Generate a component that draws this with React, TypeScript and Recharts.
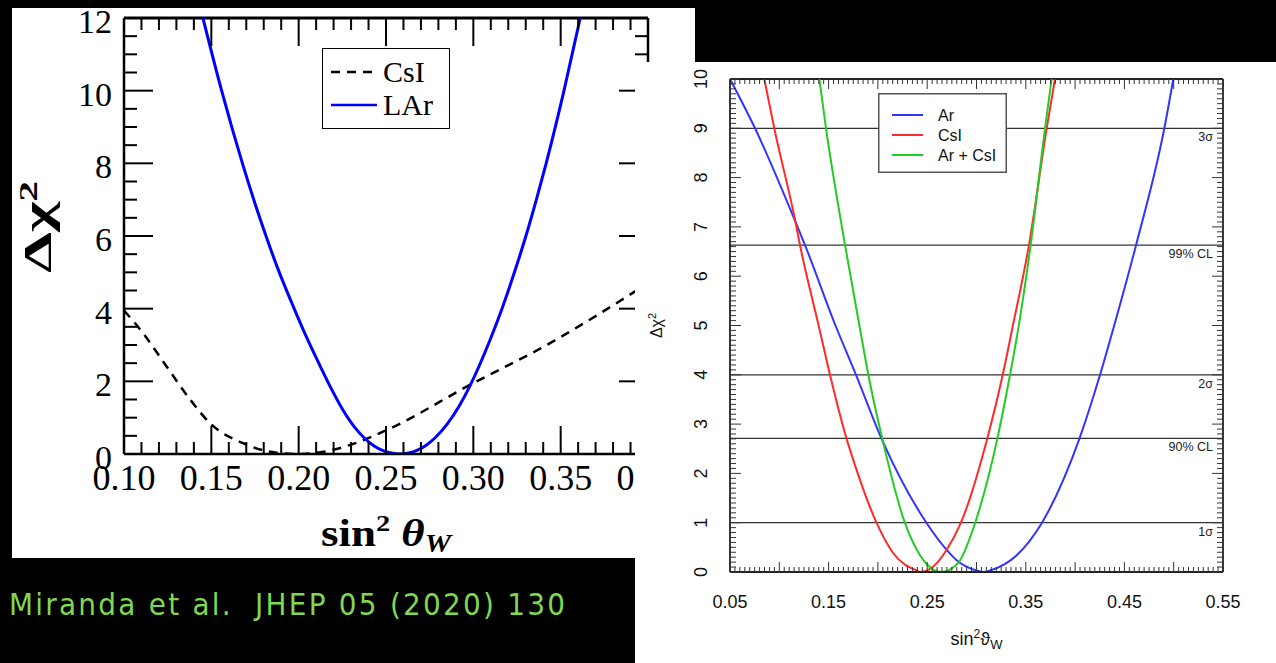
import React from 'react';
import { LineChart, Line, XAxis, YAxis, ReferenceLine, Legend } from 'recharts';

type Pt = [number, number];

// ---------- Left panel: Δχ² versus sin²θW, CsI and LAr ----------
const csiCurve: Pt[] = [
  [0.1, 3.95], [0.111, 3.32], [0.1245, 2.4], [0.138, 1.49], [0.1494, 0.84],
  [0.1685, 0.29], [0.1837, 0.06], [0.199, 0.0], [0.2143, 0.06], [0.2295, 0.25],
  [0.2505, 0.66], [0.298, 1.9], [0.342, 3.0], [0.4, 4.7],
];
const larCurve: Pt[] = [
  [0.1452, 12], [0.1559, 10], [0.1678, 8], [0.1743, 7], [0.1813, 6], [0.1884, 5.06],
  [0.1955, 4.22], [0.2027, 3.41], [0.21, 2.65], [0.218, 1.86], [0.225, 1.24], [0.232, 0.74],
  [0.238, 0.42], [0.243, 0.23], [0.248, 0.1], [0.253, 0.025], [0.258, 0],
  [0.263, 0.026], [0.268, 0.106], [0.273, 0.243], [0.278, 0.44], [0.285, 0.82],
  [0.292, 1.33], [0.298, 1.87], [0.3095, 3.13], [0.3164, 4.0], [0.324, 5.07],
  [0.3301, 6], [0.3361, 7], [0.3417, 8], [0.3519, 10], [0.3612, 12],
];
const leftXLabels = [0.1, 0.15, 0.2, 0.25, 0.3, 0.35, 0.4];
const leftYLabels = [0, 2, 4, 6, 8, 10, 12];
const leftSeries = [
  { name: 'CsI', color: '#000000', dash: '9 7' },
  { name: 'LAr', color: '#0000ff', dash: '' },
];

// ---------- Right panel: Ar, CsI and combined fit ----------
const arCurve: Pt[] = [
  [0.05, 10], [0.0754, 9], [0.1142, 7.21], [0.1261, 6.63], [0.157, 5.0], [0.1778, 4.0],
  [0.2038, 2.7], [0.2495, 0.99], [0.2698, 0.45], [0.2799, 0.24], [0.3002, 0.03], [0.3075, 0],
  [0.3137, 0.03], [0.3408, 0.34], [0.3661, 0.99], [0.4043, 2.7], [0.4253, 4.0],
  [0.4388, 4.94], [0.4618, 6.63], [0.4905, 9], [0.4996, 10],
];
const csiFitCurve: Pt[] = [
  [0.0848, 10], [0.0949, 9], [0.116, 7.14], [0.121, 6.63], [0.1406, 4.94], [0.1514, 4.0],
  [0.1683, 2.7], [0.1751, 2.27], [0.1988, 0.99], [0.2156, 0.38], [0.2393, 0.03], [0.2435, 0],
  [0.2562, 0.11], [0.2698, 0.45], [0.284, 0.99], [0.3108, 2.7], [0.3266, 4.0],
  [0.3363, 4.94], [0.3532, 6.63], [0.3712, 9], [0.3796, 10],
];
const comboCurve: Pt[] = [
  [0.1406, 10], [0.1474, 9], [0.1667, 6.63], [0.1818, 4.94], [0.1903, 4.0], [0.2045, 2.7],
  [0.2275, 0.99], [0.2427, 0.34], [0.2562, 0.05], [0.2647, 0], [0.273, 0.05],
  [0.2833, 0.24], [0.2985, 0.99], [0.3211, 2.7], [0.334, 4.0], [0.3424, 4.94],
  [0.3549, 6.63], [0.3695, 9], [0.3762, 10],
];
const rightXLabels = [0.05, 0.15, 0.25, 0.35, 0.45, 0.55];
const rightYLabels = [0, 1, 2, 3, 4, 5, 6, 7, 8, 9, 10];
const levelValues = [9, 6.63, 4, 2.71, 1];
const levelNames = ['3σ', '99% CL', '2σ', '90% CL', '1σ'];
const rightSeries = [
  { name: 'Ar', color: '#3434ff' },
  { name: 'CsI', color: '#ff2a2a' },
  { name: 'Ar + CsI', color: '#22cc22' },
];

const citation = 'Miranda et al.  JHEP 05 (2020) 130';

// ---------- helpers ----------
const toRows = (pts: Pt[]) => pts.map(([x, y]) => ({ x, y }));
const steps = (from: number, to: number, step: number) => {
  const out: number[] = [];
  const n = Math.round((to - from) / step);
  for (let i = 0; i <= n; i++) out.push(+(from + i * step).toFixed(4));
  return out;
};
const near = (a: number, b: number) => Math.abs(a - b) < 1e-6;
const hasValue = (list: number[], v: number) => list.some((u) => near(u, v));
const isMultiple = (v: number, step: number) => Math.abs(v / step - Math.round(v / step)) < 1e-6;

const SERIF = '"Liberation Serif", "Times New Roman", serif';
const SANS = '"Liberation Sans", Arial, Helvetica, sans-serif';

// ---------- left layout ----------
const L_W = 683;
const L_H = 550;
const L_MARGIN = { top: 10, right: 47, bottom: 0, left: 0 };
const L_YW = 112;
const L_XH = 104;
const L_PLOT_W = L_W - L_MARGIN.right - L_YW;
const L_PLOT_H = L_H - L_MARGIN.top - L_XH;

// ---------- right layout ----------
const R_W = 641;
const R_H = 601;
const R_MARGIN = { top: 17, right: 53, bottom: 0, left: 0 };
const R_YW = 95;
const R_XH = 91;
const R_PLOT_W = R_W - R_MARGIN.right - R_YW;
const R_PLOT_H = R_H - R_MARGIN.top - R_XH;

function LeftXTick(props: any) {
  const { x, y, payload } = props;
  const v: number = payload.value;
  const major = hasValue(leftXLabels, v);
  const len = major ? 28 : 12;
  const top = y - L_PLOT_H;
  return (
    <g>
      <line x1={x} y1={y} x2={x} y2={y - len} stroke="#000" strokeWidth={2} />
      <line x1={x} y1={top} x2={x} y2={top + len} stroke="#000" strokeWidth={2} />
      {major ? (
        <text x={x} y={y + 36} textAnchor="middle" fontFamily={SERIF} fontSize={36} fill="#000">
          {v.toFixed(2)}
        </text>
      ) : null}
    </g>
  );
}

function LeftYTick(props: any) {
  const { x, y, payload } = props;
  const v: number = payload.value;
  const major = hasValue(leftYLabels, v);
  const len = major ? 29 : 13;
  const right = x + L_PLOT_W;
  return (
    <g>
      <line x1={x} y1={y} x2={x + len} y2={y} stroke="#000" strokeWidth={2} />
      <line x1={right} y1={y} x2={right - len} y2={y} stroke="#000" strokeWidth={2} />
      {major ? (
        <text x={x - 12} y={y + 15} textAnchor="end" fontFamily={SERIF} fontSize={34} fill="#000">
          {String(v)}
        </text>
      ) : null}
    </g>
  );
}

function RightXTick(props: any) {
  const { x, y, payload } = props;
  const v: number = payload.value;
  const major = isMultiple(v, 0.05);
  const len = major ? 10 : 5;
  const top = y - R_PLOT_H;
  return (
    <g>
      <line x1={x} y1={y} x2={x} y2={y - len} stroke="#333" strokeWidth={1} />
      <line x1={x} y1={top} x2={x} y2={top + len} stroke="#333" strokeWidth={1} />
      {hasValue(rightXLabels, v) ? (
        <text x={x} y={y + 36} textAnchor="middle" fontFamily={SANS} fontSize={18} fill="#111">
          {v.toFixed(2)}
        </text>
      ) : null}
    </g>
  );
}

function RightYTick(props: any) {
  const { x, y, payload } = props;
  const v: number = payload.value;
  const major = isMultiple(v, 1);
  const len = major ? 11 : 6;
  const right = x + R_PLOT_W;
  const cx = x - 29;
  return (
    <g>
      <line x1={x} y1={y} x2={x + len} y2={y} stroke="#333" strokeWidth={1} />
      <line x1={right} y1={y} x2={right - len} y2={y} stroke="#333" strokeWidth={1} />
      {major && hasValue(rightYLabels, v) ? (
        <text
          x={cx}
          y={y}
          dy="0.36em"
          transform={`rotate(-90 ${cx} ${y})`}
          textAnchor="middle"
          fontFamily={SANS}
          fontSize={18}
          fill="#111"
        >
          {String(v)}
        </text>
      ) : null}
    </g>
  );
}

function LeftXLabel(props: any) {
  const vb = props.viewBox;
  const cx = vb.x + vb.width / 2;
  return (
    <text
      x={cx}
      y={vb.y + 92}
      textAnchor="middle"
      fontFamily={SERIF}
      fontSize={38}
      fontWeight="bold"
      fill="#000"
      textLength={130}
      lengthAdjust="spacingAndGlyphs"
    >
      sin
      <tspan dy={-15} fontSize={24}>2</tspan>
      <tspan dy={15} fontStyle="italic"> θ</tspan>
      <tspan dy={6} fontSize={25} fontStyle="italic">W</tspan>
    </text>
  );
}

function LeftYLabel(props: any) {
  const vb = props.viewBox;
  const cx = vb.x + 39;
  const cy = vb.y + vb.height / 2 - 9;
  return (
    <text
      x={cx}
      y={cy}
      transform={`rotate(-90 ${cx} ${cy})`}
      textAnchor="middle"
      fontFamily={SERIF}
      fontSize={41}
      fontWeight="bold"
      fill="#000"
      textLength={92}
      lengthAdjust="spacingAndGlyphs"
    >
      Δχ
      <tspan dy={-14} fontSize={26}>2</tspan>
    </text>
  );
}

function RightXLabel(props: any) {
  const vb = props.viewBox;
  const cx = vb.x + vb.width / 2;
  return (
    <text x={cx} y={vb.y + 73} textAnchor="middle" fontFamily={SANS} fontSize={18} fill="#111">
      sin
      <tspan dy={-7} fontSize={12}>2</tspan>
      <tspan dy={7}>ϑ</tspan>
      <tspan dy={4} fontSize={13}>W</tspan>
    </text>
  );
}

function RightYLabel(props: any) {
  const vb = props.viewBox;
  const cx = vb.x + vb.width - 74;
  const cy = vb.y + vb.height / 2;
  return (
    <text
      x={cx}
      y={cy}
      dy="0.36em"
      transform={`rotate(-90 ${cx} ${cy})`}
      textAnchor="middle"
      fontFamily={SANS}
      fontSize={16}
      fill="#111"
    >
      Δχ<tspan dy={-6} fontSize={11}>2</tspan>
    </text>
  );
}

function LeftLegend() {
  return (
    <svg width={128} height={81} style={{ display: 'block' }}>
      <rect x={0.5} y={0.5} width={127} height={80} fill="#fff" stroke="#000" strokeWidth={1} />
      {leftSeries.map((s, i) => {
        const ly = 24 + i * 33;
        return (
          <g key={s.name}>
            <line
              x1={9}
              y1={ly}
              x2={i === 0 ? 52 : 55}
              y2={ly}
              stroke={s.color}
              strokeWidth={2.5}
              strokeDasharray={s.dash || undefined}
            />
            <text x={61} y={ly + 10} fontFamily={SERIF} fontSize={30} fill="#000">
              {s.name}
            </text>
          </g>
        );
      })}
    </svg>
  );
}

function RightLegend() {
  return (
    <svg width={129} height={80} style={{ display: 'block' }}>
      <rect x={0.75} y={0.75} width={127.5} height={78.5} fill="#fff" stroke="#555" strokeWidth={1.5} />
      {rightSeries.map((s, i) => {
        const ly = 22 + i * 20;
        return (
          <g key={s.name}>
            <line x1={14} y1={ly} x2={45} y2={ly} stroke={s.color} strokeWidth={2} />
            <text x={60} y={ly + 6} fontFamily={SANS} fontSize={16} fill="#111">
              {s.name}
            </text>
          </g>
        );
      })}
    </svg>
  );
}

const leftXTicks = steps(0.1, 0.4, 0.01);
const leftYTicks = steps(0, 12, 0.5);
const rightXTicks = steps(0.05, 0.55, 0.005);
const rightYTicks = steps(0, 10, 0.1);

export default function App() {
  return (
    <div
      style={{
        position: 'absolute',
        left: 0,
        top: 0,
        width: 1276,
        height: 663,
        background: '#000',
        overflow: 'hidden',
      }}
    >
      <div style={{ position: 'absolute', left: 12, top: 8, width: L_W, height: L_H, background: '#fff' }}>
        <LineChart width={L_W} height={L_H} margin={L_MARGIN} style={{ overflow: 'visible' }}>
          <XAxis
            dataKey="x"
            type="number"
            domain={[0.1, 0.4]}
            ticks={leftXTicks}
            interval={0}
            allowDataOverflow
            height={L_XH}
            tickSize={0}
            tickMargin={0}
            tickLine={false}
            tick={LeftXTick}
            axisLine={{ stroke: '#000', strokeWidth: 2.5 }}
            label={LeftXLabel}
          />
          <YAxis
            type="number"
            domain={[0, 12]}
            ticks={leftYTicks}
            interval={0}
            allowDataOverflow
            width={L_YW}
            tickSize={0}
            tickMargin={0}
            tickLine={false}
            tick={LeftYTick}
            axisLine={{ stroke: '#000', strokeWidth: 2.5 }}
            label={LeftYLabel}
          />
          <ReferenceLine y={12} stroke="#000" strokeWidth={3} />
          <ReferenceLine x={0.4} stroke="#000" strokeWidth={2.5} />
          <Line
            data={toRows(csiCurve)}
            dataKey="y"
            name="CsI"
            type="monotone"
            stroke="#000"
            strokeWidth={2.5}
            strokeDasharray="9 7"
            dot={false}
            activeDot={false}
            isAnimationActive={false}
          />
          <Line
            data={toRows(larCurve)}
            dataKey="y"
            name="LAr"
            type="monotone"
            stroke="#0000ff"
            strokeWidth={3}
            dot={false}
            activeDot={false}
            isAnimationActive={false}
          />
          <Legend
            layout="vertical"
            align="center"
            verticalAlign="middle"
            content={LeftLegend}
            wrapperStyle={{ left: 310, top: 40, width: 128, height: 81 }}
          />
        </LineChart>
      </div>

      <div style={{ position: 'absolute', left: 635, top: 62, width: R_W, height: R_H, background: '#fff' }}>
        <LineChart width={R_W} height={R_H} margin={R_MARGIN}>
          <XAxis
            dataKey="x"
            type="number"
            domain={[0.05, 0.55]}
            ticks={rightXTicks}
            interval={0}
            allowDataOverflow
            height={R_XH}
            tickSize={0}
            tickMargin={0}
            tickLine={false}
            tick={RightXTick}
            axisLine={{ stroke: '#222', strokeWidth: 1.8 }}
            label={RightXLabel}
          />
          <YAxis
            type="number"
            domain={[0, 10]}
            ticks={rightYTicks}
            interval={0}
            allowDataOverflow
            width={R_YW}
            tickSize={0}
            tickMargin={0}
            tickLine={false}
            tick={RightYTick}
            axisLine={{ stroke: '#222', strokeWidth: 1.8 }}
            label={RightYLabel}
          />
          <ReferenceLine y={10} stroke="#222" strokeWidth={1.8} />
          <ReferenceLine x={0.55} stroke="#222" strokeWidth={1.8} />
          {levelValues.map((lv, i) => (
            <ReferenceLine
              key={lv}
              y={lv}
              stroke="#333"
              strokeWidth={1.3}
              label={(p: any) => (
                <text
                  x={p.viewBox.x + p.viewBox.width - 10}
                  y={p.viewBox.y + 13}
                  textAnchor="end"
                  fontFamily={SANS}
                  fontSize={12.5}
                  fill="#222"
                >
                  {levelNames[i]}
                </text>
              )}
            />
          ))}
          <Line
            data={toRows(arCurve)}
            dataKey="y"
            name="Ar"
            type="monotone"
            stroke={rightSeries[0].color}
            strokeWidth={2}
            dot={false}
            activeDot={false}
            isAnimationActive={false}
          />
          <Line
            data={toRows(csiFitCurve)}
            dataKey="y"
            name="CsI"
            type="monotone"
            stroke={rightSeries[1].color}
            strokeWidth={2}
            dot={false}
            activeDot={false}
            isAnimationActive={false}
          />
          <Line
            data={toRows(comboCurve)}
            dataKey="y"
            name="Ar + CsI"
            type="monotone"
            stroke={rightSeries[2].color}
            strokeWidth={2}
            dot={false}
            activeDot={false}
            isAnimationActive={false}
          />
          <Legend
            layout="vertical"
            align="center"
            verticalAlign="middle"
            content={RightLegend}
            wrapperStyle={{ left: 243, top: 31, width: 129, height: 80 }}
          />
        </LineChart>
      </div>

      <svg style={{ position: 'absolute', left: 0, top: 558 }} width={635} height={105}>
        <text
          x={9}
          y={57}
          fontFamily='"DejaVu Sans Condensed", "Noto Sans", "DejaVu Sans", sans-serif'
          fontSize={31}
          fill="#7fd84f"
          textLength={556}
          lengthAdjust="spacing"
          style={{ whiteSpace: 'pre' }}
        >
          {citation}
        </text>
      </svg>
    </div>
  );
}
